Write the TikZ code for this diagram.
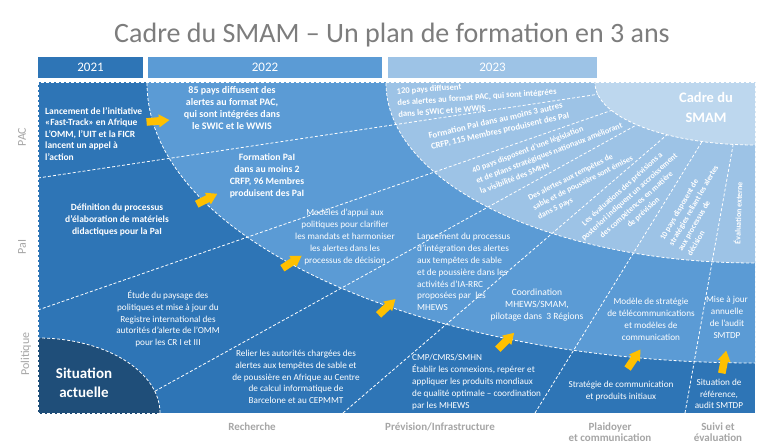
\documentclass[tikz,border=0pt]{standalone}
\usepackage{fontspec}
\setmainfont{Carlito}
\definecolor{c21}{RGB}{46,117,182}
\definecolor{c22}{RGB}{91,155,213}
\definecolor{c23}{RGB}{157,195,230}
\definecolor{ccadre}{RGB}{189,215,238}
\definecolor{cnavy}{RGB}{31,78,121}
\definecolor{cyel}{RGB}{255,192,0}
\definecolor{cgray}{RGB}{166,166,166}
\definecolor{ctitle}{RGB}{125,125,125}
\newcommand{\myfs}[2]{\fontsize{#1}{#2}\selectfont}
\begin{document}
\begin{tikzpicture}[x=1pt,y=-1pt,
  dl/.style={white, line width=0.8pt, dash pattern=on 3pt off 2pt},
  txt/.style={text=white, align=center, inner sep=0pt},
  bar/.style={text=white, inner sep=0pt, font=\myfs{13}{14}},
  rowlab/.style={text=cgray, inner sep=0pt, rotate=90, font=\myfs{12}{13}},
  collab/.style={text=cgray, inner sep=0pt, align=center, font=\bfseries\myfs{11}{10.5}},
  arr/.style={fill=cyel}]
\useasboundingbox (0,0) rectangle (768,447);
\fill[white] (0,0) rectangle (768,447);
% title
\node[text=ctitle, inner sep=0pt, font=\myfs{28}{30}] (title) at (392,35) {Cadre du SMAM – Un plan de formation en 3 ans};
% year bars
\node[bar, fill=c21, minimum width=105pt, minimum height=21pt] (y21) at (90.5,67.5) {2021};
\node[bar, fill=c22, minimum width=234pt, minimum height=21pt] (y22) at (265,67.5) {2022};
\node[bar, fill=c23, minimum width=209pt, minimum height=21pt] (y23) at (492.5,67.5) {2023};
% panel
\begin{scope}
\clip (38,82) rectangle (755,413);
\fill[c21] (38,82) rectangle (755,413);
\fill[c22] (755,83) ellipse [x radius=608, y radius=280];
\draw[dl] (755,83) ellipse [x radius=608, y radius=280];
\fill[c23] (755,83) ellipse [x radius=369, y radius=180];
\draw[dl] (755,83) ellipse [x radius=369, y radius=180];
% dividers
\draw[dl] (38,178) -- (640,88);
\draw[dl] (38,310) -- (650,97);
\draw[dl] (120,410.5) -- (670,106.4);
\draw[dl] (343,413) -- (690,115);
\draw[dl] (535,413) -- (715,120.5);
\draw[dl] (685,413) -- (737,123);
\fill[ccadre] (755,83) ellipse [x radius=160, y radius=62];
\draw[dl] (755,83) ellipse [x radius=160, y radius=62];
\fill[cnavy] (38,413) ellipse [x radius=122, y radius=75];
\draw[dl] (38,413) ellipse [x radius=122, y radius=75];
\end{scope}
\draw[dl] (38,82) rectangle (755,413);
% arrows
\foreach \px/\py/\ang in {158/121/5, 207/199/27, 292/262/33, 387/307/43, 506/341/45, 634/359/56, 724/362/79}{
  \fill[arr, shift={(\px,\py)}, rotate=\ang] (-11.5,-3.8) -- (1,-3.8) -- (1,-6.5) -- (11.5,0) -- (1,6.5) -- (1,3.8) -- (-11.5,3.8) -- cycle;
}
% outer ring texts
\node[txt, align=left, anchor=west, font=\bfseries\myfs{9.5}{11.5}] (t1) at (45,134) {Lancement de l’initiative\\«Fast-Track» en Afrique\\L’OMM, l’UIT et la FICR\\lancent un appel à\\l’action};
\node[txt, font=\bfseries\myfs{9.5}{12}] (t2) at (117,220) {Définition du processus\\d’élaboration de matériels\\didactiques pour la PaI};
\node[txt, font=\myfs{9.2}{11.7}] (t3) at (168,319) {Étude du paysage des\\politiques et mise à jour du\\Registre international des\\autorités d’alerte de l’OMM\\pour les CR I et III};
\node[txt, font=\bfseries\myfs{15}{19}] (t4) at (84,383) {Situation\\actuelle};
\node[txt, font=\myfs{9.2}{11.8}] (t12) at (296,377) {Relier les autorités chargées des\\alertes aux tempêtes de sable et\\de poussière en Afrique au Centre\\de calcul informatique de\\Barcelone et au CEPMMT};
\node[txt, align=left, anchor=west, font=\myfs{9.2}{11.8}] (t13) at (412,382) {CMP/CMRS/SMHN\\Établir les connexions, repérer et\\appliquer les produits mondiaux\\de qualité optimale – coordination\\par les MHEWS};
\node[txt, font=\myfs{9.2}{12}] (t14) at (621,391) {Stratégie de communication\\et produits initiaux};
\node[txt, font=\myfs{9.2}{11.7}] (t15) at (719,394) {Situation de\\référence,\\audit SMTDP};
% 2022 ring texts
\node[txt, font=\bfseries\myfs{10}{12}] (t5) at (232,108) {85 pays diffusent des\\alertes au format PAC,\\qui sont intégrées dans\\le SWIC et le WWIS};
\node[txt, font=\bfseries\myfs{9.7}{12}] (t6) at (267,176) {Formation PaI\\dans au moins 2\\CRFP, 96 Membres\\produisent des PaI};
\node[txt, font=\myfs{9.2}{11.8}] (t7) at (345,237) {Modèles d’appui aux\\politiques pour clarifier\\les mandats et harmoniser\\les alertes dans les\\processus de décision};
\node[txt, align=left, anchor=west, font=\myfs{9.3}{11.8}] (t8) at (417,272) {Lancement du processus\\d’intégration des alertes\\aux tempêtes de sable\\et de poussière dans les\\activités d’IA-RRC\\proposées par~~les\\MHEWS};
\node[txt, font=\myfs{9.5}{12}] (t9) at (537,305) {Coordination\\MHEWS/SMAM,\\pilotage dans~~3 Régions};
\node[txt, font=\myfs{9.2}{12}] (t10) at (651,319) {Modèle de stratégie\\de télécommunications\\et modèles de\\communication};
\node[txt, font=\myfs{9.2}{12}] (t11) at (727,317) {Mise à jour\\annuelle\\de l’audit\\SMTDP};
% 2023 ring texts
\node[txt, align=left, rotate=4, font=\bfseries\myfs{8.6}{11.5}] (t16) at (477,97) {120 pays diffusent\\des alertes au format PAC, qui sont intégrées\\dans le SWIC et le WWIS};
\node[txt, align=left, rotate=13, font=\bfseries\myfs{8.8}{11}] (t17) at (499,126) {Formation PaI dans au moins 3 autres\\CRFP, 115 Membres produisent des PaI};
\node[txt, align=left, rotate=21, font=\bfseries\myfs{8.2}{11}] (t18) at (549,153) {40 pays disposent d’une législation\\et de plans stratégiques nationaux améliorant\\la visibilité des SMHN};
\node[txt, align=left, rotate=27, font=\bfseries\myfs{8}{10.5}] (t19) at (583,183) {Des alertes aux tempêtes de\\sable et de poussière sont émises\\dans 5 pays};
\node[txt, rotate=42, font=\bfseries\myfs{8}{10.5}] (t20) at (633,201) {Les évaluations des prévisions a\\posteriori indiquent un accroissement\\des compétences en matière\\de prévision};
\node[txt, align=left, rotate=60, font=\bfseries\myfs{8}{10.5}] (t21) at (698,208) {10 pays disposent de\\stratégies reliant les alertes\\aux processus de\\décision};
\node[txt, rotate=88, font=\bfseries\myfs{8}{10}] (t22) at (738,213) {Évaluation externe};
\node[txt, font=\bfseries\myfs{14.5}{20}] (t23) at (706,107) {Cadre du\\SMAM};
% axis labels
\node[rowlab] (rPAC) at (22,137) {PAC};
\node[rowlab] (rPaI) at (22,247) {PaI};
\node[rowlab] (rPol) at (26,354) {Politique};
\node[collab] (cRech) at (252,427) {Recherche};
\node[collab] (cPrev) at (440,427) {Prévision/Infrastructure};
\node[collab] (cPlai) at (610,432) {Plaidoyer\\et communication};
\node[collab] (cSuiv) at (718,432) {Suivi et\\évaluation};
\end{tikzpicture}
\end{document}
